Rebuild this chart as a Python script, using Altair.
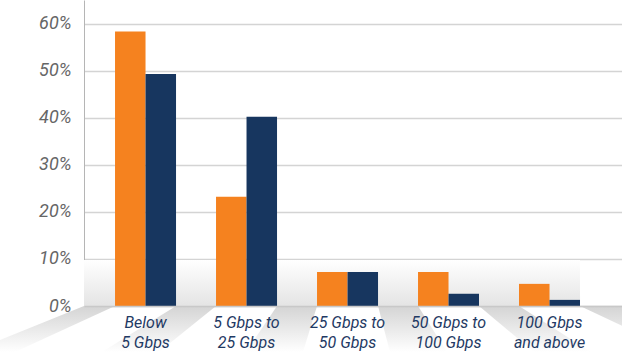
import altair as alt
import pandas as pd

# ---------------- data ----------------
categories = ["Below\n5 Gbps", "5 Gbps to\n25 Gbps", "25 Gbps to\n50 Gbps",
              "50 Gbps to\n100 Gbps", "100 Gbps\nand above"]
series_names = ["Series 1", "Series 2"]
series1 = [58.3, 23.2, 7.2, 7.2, 4.7]
series2 = [49.3, 40.2, 7.2, 2.6, 1.3]
y_ticks = [0, 10, 20, 30, 40, 50, 60]
colors = ["#f5821f", "#17365f"]

rows = []
for c, a, b in zip(categories, series1, series2):
    rows.append({"cat": c, "series": series_names[0], "value": a})
    rows.append({"cat": c, "series": series_names[1], "value": b})
df = pd.DataFrame(rows)

# ---------------- layout ----------------
W, H = 538, 306
P_IN, P_OUT, ALIGN = 0.396, 0.3614, 0.425

# decorative floor geometry derived from band layout
n = len(categories)
step = W / (n - P_IN + 2 * P_OUT)
start = (W - step * (n - P_IN)) * ALIGN
band = step * (1 - P_IN)
groups = [(start + i * step, start + i * step + band) for i in range(n)]
gaps = [(0, groups[0][0])] + [(groups[i][1], groups[i + 1][0]) for i in range(n - 1)] + [(groups[-1][1], W)]
VX, VDIST, DEPTH = 266, 108, 46
floor_rows = []
for gi, (l, r) in enumerate(gaps):
    floor_rows.append({"g": gi, "py": H, "px": l, "px2": r})
    floor_rows.append({"g": gi, "py": H + DEPTH,
                       "px": l + (l - VX) * DEPTH / VDIST,
                       "px2": r + (r - VX) * DEPTH / VDIST})
floor_df = pd.DataFrame(floor_rows)
wall_df = pd.DataFrame([{"px": 0, "px2": groups[-1][1], "py": H - 46, "py2": H}])

px_scale = alt.Scale(domain=[0, W], nice=False, zero=False)
py_scale = alt.Scale(domain=[0, H], nice=False, zero=False, reverse=True)

floor = alt.Chart(floor_df).mark_area(
    orient="horizontal",
    color=alt.Gradient(gradient="linear",
                       stops=[alt.GradientStop(color="#d4d4d4", offset=0),
                              alt.GradientStop(color="#ffffff", offset=1)],
                       x1=0, x2=0, y1=0, y2=1),
).encode(
    y=alt.Y("py:Q", scale=py_scale, axis=None),
    x=alt.X("px:Q", scale=px_scale, axis=None),
    x2="px2:Q",
    detail="g:N",
)

wall = alt.Chart(wall_df).mark_rect(
    color=alt.Gradient(gradient="linear",
                       stops=[alt.GradientStop(color="#ffffff", offset=0),
                              alt.GradientStop(color="#e4e4e4", offset=1)],
                       x1=0, x2=0, y1=0, y2=1),
).encode(
    x=alt.X("px:Q", scale=px_scale, axis=None),
    x2="px2:Q",
    y=alt.Y("py:Q", scale=py_scale, axis=None),
    y2="py2:Q",
)

bars = alt.Chart(df).mark_bar().encode(
    x=alt.X("cat:N", sort=categories, title=None,
            scale=alt.Scale(paddingInner=P_IN, paddingOuter=P_OUT, align=ALIGN),
            axis=alt.Axis(orient="bottom", labelAngle=0, ticks=False, grid=False,
                          domainColor="#c8c8c8", domainWidth=1.5,
                          labelFont="Roboto", labelFontStyle="italic",
                          labelFontSize=16, labelColor="#1f3a64",
                          labelLineHeight=20, labelPadding=8,
                          labelBaseline="top", zindex=1,
                          labelExpr="split(datum.label, '\\n')")),
    xOffset=alt.XOffset("series:N", sort=series_names,
                        scale=alt.Scale(paddingInner=0, paddingOuter=0)),
    y=alt.Y("value:Q", title=None,
            scale=alt.Scale(domain=[0, 65], nice=False),
            axis=alt.Axis(orient="left", values=y_ticks, ticks=False, grid=True,
                          domainColor="#b5b5b5", domainWidth=1,
                          gridColor="#d4d4d4", gridWidth=1.5,
                          labelFont="Roboto", labelFontStyle="italic",
                          labelFontSize=18, labelColor="#666666",
                          labelPadding=13,
                          labelExpr="datum.value + '%'")),
    color=alt.Color("series:N", sort=series_names,
                    scale=alt.Scale(domain=series_names, range=colors),
                    legend=None),
)

chart = alt.layer(floor, wall, bars).resolve_scale(
    x="independent", y="independent"
).properties(
    width=W, height=H,
    autosize=alt.AutoSizeParams(type="none"),
    padding={"left": 84, "top": 0, "right": 0, "bottom": 47},
    background="white",
).configure_view(stroke=None)

chart.save("out.html", embed_options={"renderer": "svg", "actions": False})
